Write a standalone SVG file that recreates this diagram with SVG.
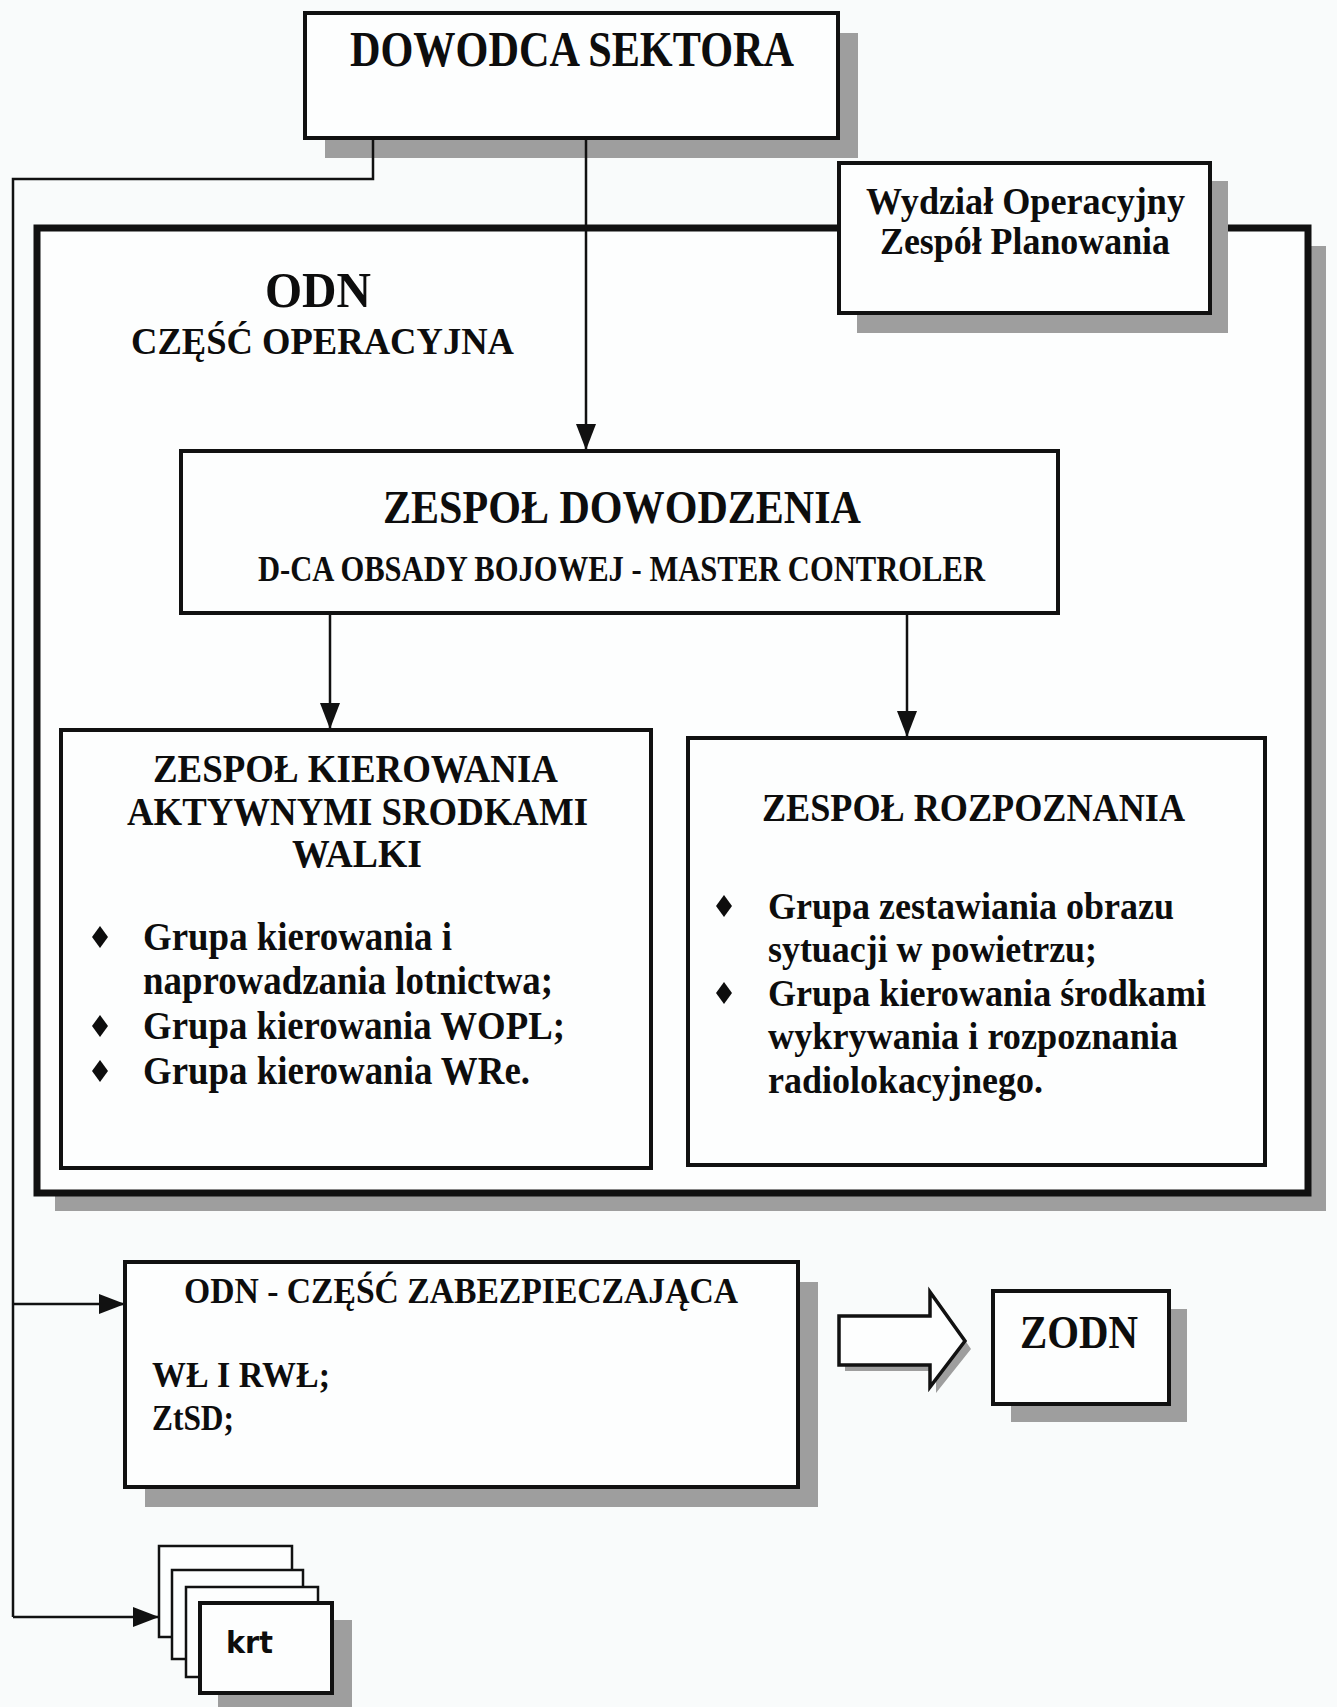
<svg xmlns="http://www.w3.org/2000/svg" width="1337" height="1707" viewBox="0 0 1337 1707">
  <defs>
    <style>
      .bg{fill:#f9fbfb}
      .box{fill:#fdfefe;stroke:#111;stroke-width:4}
      .card{fill:#fdfefe;stroke:#111;stroke-width:2.5}
      .sh{fill:#9e9e9e}
      .ln{fill:none;stroke:#111;stroke-width:2.5}
      .t{font-family:"Liberation Serif","Times New Roman",serif;font-weight:bold;fill:#0d0d0d}
      .s{font-family:"DejaVu Sans","Liberation Sans",sans-serif;font-weight:bold;fill:#0d0d0d}
      .dot{fill:#0d0d0d}
    </style>
    <marker id="ah" viewBox="0 0 26 20" refX="26" refY="10" markerWidth="26" markerHeight="20" markerUnits="userSpaceOnUse" orient="auto">
      <path d="M0,0 L26,10 L0,20 z" fill="#111"/>
    </marker>
  </defs>

  <rect class="bg" x="0" y="0" width="1337" height="1707"/>

  <!-- commander of the sector -->
  <g id="dowodca">
    <rect class="sh" x="325" y="33" width="533" height="125"/>
    <rect class="box" x="305" y="13" width="533" height="125"/>
    <text class="t" x="350" y="66" font-size="51" textLength="444" lengthAdjust="spacingAndGlyphs">DOWODCA SEKTORA</text>
  </g>

  <!-- ODN operational part (outer frame) -->
  <g id="odn-operacyjna">
    <rect class="sh" x="55" y="246" width="1271" height="965"/>
    <rect x="37" y="228" width="1271" height="965" fill="#fdfefe" stroke="#111" stroke-width="7"/>
    <text class="t" x="265" y="307" font-size="50" textLength="106" lengthAdjust="spacingAndGlyphs">ODN</text>
    <text class="t" x="131" y="354" font-size="38" textLength="383" lengthAdjust="spacingAndGlyphs">CZĘŚĆ OPERACYJNA</text>
  </g>

  <!-- connectors -->
  <g id="connectors">
    <polyline class="ln" points="373,138 373,179 13,179 13,1617"/>
    <line class="ln" x1="13" y1="1304" x2="125" y2="1304" marker-end="url(#ah)"/>
    <line class="ln" x1="13" y1="1617" x2="159" y2="1617" marker-end="url(#ah)"/>
    <line class="ln" x1="586" y1="138" x2="586" y2="450" marker-end="url(#ah)"/>
    <line class="ln" x1="330" y1="613" x2="330" y2="729" marker-end="url(#ah)"/>
    <line class="ln" x1="907" y1="613" x2="907" y2="737" marker-end="url(#ah)"/>
  </g>

  <!-- operations department / planning team -->
  <g id="wydzial">
    <rect class="sh" x="857" y="181" width="371" height="152"/>
    <rect class="box" x="839" y="163" width="371" height="150"/>
    <text class="t" x="866" y="214" font-size="37" textLength="319" lengthAdjust="spacingAndGlyphs">Wydział Operacyjny</text>
    <text class="t" x="880" y="254" font-size="37" textLength="290" lengthAdjust="spacingAndGlyphs">Zespół Planowania</text>
  </g>

  <!-- command team -->
  <g id="zespol-dowodzenia">
    <rect class="box" x="181" y="451" width="877" height="162"/>
    <text class="t" x="383" y="523" font-size="46" textLength="478" lengthAdjust="spacingAndGlyphs">ZESPOŁ DOWODZENIA</text>
    <text class="t" x="258" y="581" font-size="35" textLength="727" lengthAdjust="spacingAndGlyphs">D-CA OBSADY BOJOWEJ - MASTER CONTROLER</text>
  </g>

  <!-- active means control team -->
  <g id="zespol-kierowania">
    <rect class="box" x="61" y="730" width="590" height="438"/>
    <text class="t" x="153" y="782" font-size="39" textLength="405" lengthAdjust="spacingAndGlyphs">ZESPOŁ KIEROWANIA</text>
    <text class="t" x="127" y="825" font-size="39" textLength="461" lengthAdjust="spacingAndGlyphs">AKTYWNYMI SRODKAMI</text>
    <text class="t" x="292" y="867" font-size="39" textLength="130" lengthAdjust="spacingAndGlyphs">WALKI</text>
    <polygon class="dot" points="100,926 108,937 100,948 92,937"/>
    <polygon class="dot" points="100,1015 108,1026 100,1037 92,1026"/>
    <polygon class="dot" points="100,1060 108,1071 100,1082 92,1071"/>
    <text class="t" x="143" y="950" font-size="39" textLength="309" lengthAdjust="spacingAndGlyphs">Grupa kierowania i</text>
    <text class="t" x="143" y="994" font-size="39" textLength="410" lengthAdjust="spacingAndGlyphs">naprowadzania lotnictwa;</text>
    <text class="t" x="143" y="1039" font-size="39" textLength="422" lengthAdjust="spacingAndGlyphs">Grupa kierowania WOPL;</text>
    <text class="t" x="143" y="1084" font-size="39" textLength="387" lengthAdjust="spacingAndGlyphs">Grupa kierowania WRe.</text>
  </g>

  <!-- reconnaissance team -->
  <g id="zespol-rozpoznania">
    <rect class="box" x="688" y="738" width="577" height="427"/>
    <text class="t" x="762" y="821" font-size="39" textLength="423" lengthAdjust="spacingAndGlyphs">ZESPOŁ ROZPOZNANIA</text>
    <polygon class="dot" points="724,895 732,906 724,917 716,906"/>
    <polygon class="dot" points="724,982 732,993 724,1004 716,993"/>
    <text class="t" x="768" y="919" font-size="38" textLength="406" lengthAdjust="spacingAndGlyphs">Grupa zestawiania obrazu</text>
    <text class="t" x="768" y="962" font-size="38" textLength="329" lengthAdjust="spacingAndGlyphs">sytuacji w powietrzu;</text>
    <text class="t" x="768" y="1006" font-size="38" textLength="438" lengthAdjust="spacingAndGlyphs">Grupa kierowania środkami</text>
    <text class="t" x="768" y="1049" font-size="38" textLength="410" lengthAdjust="spacingAndGlyphs">wykrywania i rozpoznania</text>
    <text class="t" x="768" y="1093" font-size="38" textLength="275" lengthAdjust="spacingAndGlyphs">radiolokacyjnego.</text>
  </g>

  <!-- ODN support part -->
  <g id="odn-zabezpieczajaca">
    <rect class="sh" x="145" y="1282" width="673" height="225"/>
    <rect class="box" x="125" y="1262" width="673" height="225"/>
    <text class="t" x="184" y="1303" font-size="36" textLength="554" lengthAdjust="spacingAndGlyphs">ODN - CZĘŚĆ ZABEZPIECZAJĄCA</text>
    <text class="t" x="152" y="1387" font-size="36" textLength="178" lengthAdjust="spacingAndGlyphs">WŁ I RWŁ;</text>
    <text class="t" x="152" y="1430" font-size="36" textLength="82" lengthAdjust="spacingAndGlyphs">ZtSD;</text>
  </g>

  <!-- transition arrow -->
  <g id="strzalka">
    <path class="sh" d="M845,1322 L936,1322 L936,1298 L971,1349 L936,1393 L936,1371 L845,1371 z"/>
    <path d="M839,1316 L930,1316 L930,1292 L965,1341 L930,1387 L930,1365 L839,1365 z" fill="#fdfefe" stroke="#111" stroke-width="3.5" stroke-linejoin="miter"/>
  </g>

  <!-- ZODN -->
  <g id="zodn">
    <rect class="sh" x="1011" y="1309" width="176" height="113"/>
    <rect class="box" x="993" y="1291" width="176" height="113"/>
    <text class="t" x="1020" y="1348" font-size="46" textLength="118" lengthAdjust="spacingAndGlyphs">ZODN</text>
  </g>

  <!-- stacked crew cards -->
  <g id="krt">
    <rect class="card" x="159" y="1546" width="133" height="91"/>
    <rect class="card" x="172" y="1570" width="131" height="89"/>
    <rect class="card" x="186" y="1587" width="132" height="90"/>
    <rect class="sh" x="218" y="1620" width="134" height="92"/>
    <rect class="box" x="200" y="1603" width="132" height="90"/>
    <text class="s" x="226" y="1653" font-size="30" textLength="47" lengthAdjust="spacingAndGlyphs">krt</text>
  </g>
</svg>
